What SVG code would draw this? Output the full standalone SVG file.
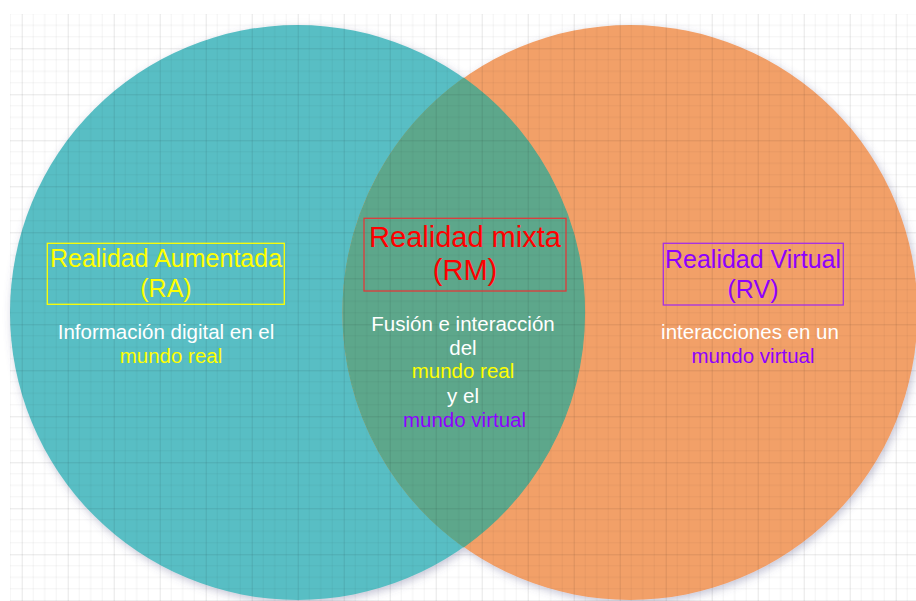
<svg xmlns="http://www.w3.org/2000/svg" width="916" height="601" viewBox="0 0 916 601">
<defs>
<pattern id="grid" patternUnits="userSpaceOnUse" x="21.7" y="48.3" width="46" height="46">
<path d="M11.5 0V46M23 0V46M34.5 0V46M0 11.5H46M0 23H46M0 34.5H46" stroke="#000" stroke-opacity="0.045" stroke-width="1" fill="none"/>
<path d="M0.5 0V46M0 0.5H46" stroke="#000" stroke-opacity="0.095" stroke-width="1" fill="none"/>
</pattern>
<filter id="sh" x="-10%" y="-10%" width="120%" height="120%">
<feDropShadow dx="2" dy="3" stdDeviation="4" flood-color="#5a5a8a" flood-opacity="0.35"/>
</filter>
<style>
text{font-family:"Liberation Sans",Arial,Helvetica,sans-serif;text-anchor:middle}
.t25{font-size:25px}
.t29{font-size:29px}
.s{font-size:20.5px}
.w{fill:#ffffff}
.y{fill:#ffff00}
.r{fill:#ff0000}
.p{fill:#8e00ff}
.box{fill:none;stroke-width:1.3}
</style>
</defs>
<rect width="916" height="601" fill="#ffffff"/>
<g id="circles">
<g filter="url(#sh)">
<circle id="circle-ra" cx="297.5" cy="312.5" r="287.5" fill="#58bec4"/>
<circle id="circle-rv" cx="630" cy="312.5" r="287.5" fill="#f2a068"/>
</g>
<path id="lens-rm" d="M463.75 78.3A287.5 287.5 0 0 1 463.75 546.7A287.5 287.5 0 0 1 463.75 78.3Z" fill="#5da78b" stroke="#5da78b" stroke-width="1.2"/>
</g>
<rect x="10" y="14" width="906" height="587" fill="url(#grid)"/>
<g id="connectors"/>
<g id="node-ra">
<rect class="box" x="47.3" y="243.3" width="237" height="61" stroke="#ffff00"/>
<text class="t25 y" x="166" y="266.7">Realidad Aumentada</text>
<text class="t25 y" x="166" y="296.5">(RA)</text>
<text class="s w" x="166" y="339.3">Información digital en el</text>
<text class="s y" x="171" y="363.3">mundo real</text>
</g>
<g id="node-rm">
<rect class="box" x="364" y="218.3" width="202" height="72.7" stroke="#e03a3a"/>
<text class="t29 r" x="465" y="246.7">Realidad mixta</text>
<text class="t29 r" x="465" y="280">(RM)</text>
<text class="s w" x="463" y="330.7">Fusión e interacción</text>
<text class="s w" x="463" y="355">del</text>
<text class="s y" x="463" y="378.3">mundo real</text>
<text class="s w" x="463" y="402.5">y el</text>
<text class="s p" x="464.5" y="426.7">mundo virtual</text>
</g>
<g id="node-rv">
<rect class="box" x="663.3" y="243.3" width="180" height="61.7" stroke="#a52ee6"/>
<text class="t25 p" x="753" y="268.3">Realidad Virtual</text>
<text class="t25 p" x="753" y="298.3">(RV)</text>
<text class="s w" x="750" y="339.3">interacciones en un</text>
<text class="s p" x="753" y="363.3">mundo virtual</text>
</g>
</svg>
